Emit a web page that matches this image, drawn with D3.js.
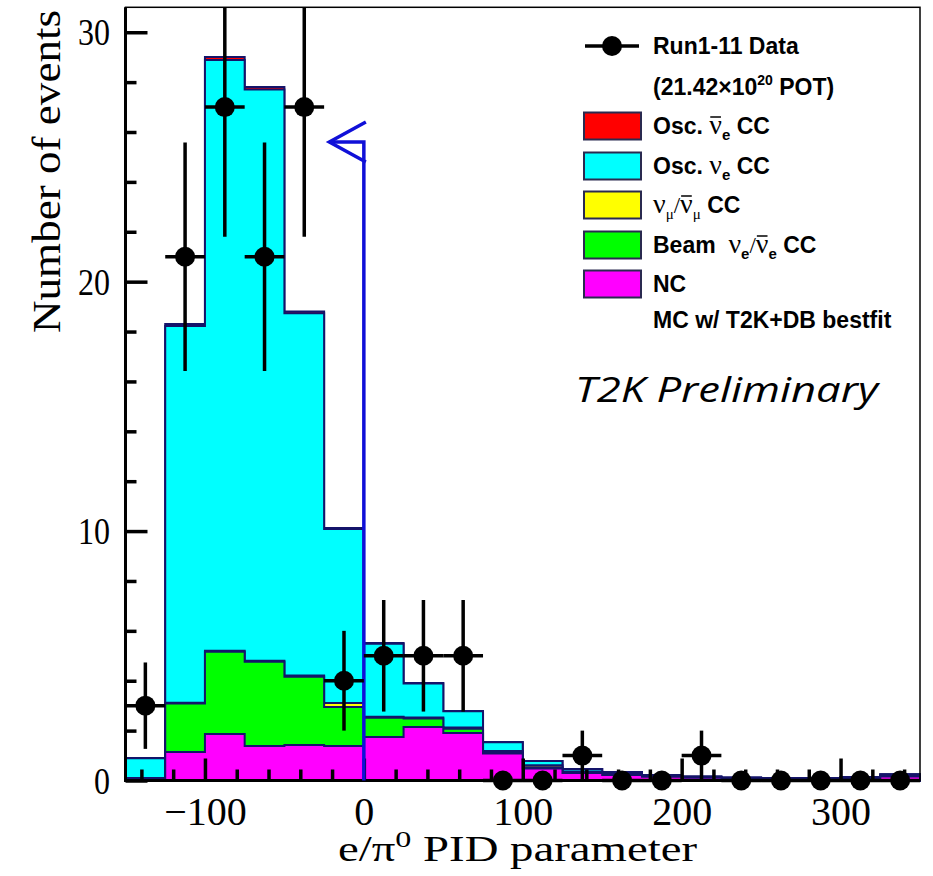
<!DOCTYPE html>
<html>
<head>
<meta charset="utf-8">
<script src="https://cdn.jsdelivr.net/npm/d3@7"></script>
<style>
body { margin: 0; background: #fff; }
svg { display: block; }
</style>
</head>
<body>
<svg id="chart" width="933" height="876"></svg>
<script>
// histogram binning (e/pi0 PID parameter)
const binEdges = [-150, -125, -100, -75, -50, -25, 0, 25, 50, 75, 100, 125, 150, 175, 200, 225, 250, 275, 300, 325, 350];

// data points, Run1-11
const dataCounts = [3, 21, 27, 21, 27, 4, 5, 5, 5, 0, 0, 1, 0, 0, 1, 0, 0, 0, 0, 0];

// MC components, bottom of the stack first
const ncValues     = [0.08, 1.14, 1.86, 1.38, 1.42, 1.38, 1.74, 2.15, 1.90, 1.08, 0.48, 0.30, 0.22, 0.15, 0.11, 0.08, 0.07, 0.07, 0.09, 0.16];
const beamValues   = [0.02, 1.95, 3.30, 3.38, 2.74, 1.57, 0.78, 0.34, 0.17, 0.05, 0.05, 0.02, 0.02, 0.01, 0.01, 0.01, 0.01, 0.01, 0.01, 0.02];
const numuValues   = [0.00, 0.03, 0.04, 0.04, 0.05, 0.16, 0.04, 0.04, 0.05, 0.05, 0.08, 0.04, 0.02, 0.02, 0.02, 0.01, 0.01, 0.01, 0.02, 0.03];
const nueValues    = [0.79, 15.10, 23.69, 22.90, 14.52, 6.97, 2.92, 1.36, 0.66, 0.35, 0.17, 0.10, 0.08, 0.04, 0.02, 0.02, 0.01, 0.01, 0.02, 0.04];
const nuebarValues = [0.01, 0.08, 0.12, 0.10, 0.07, 0.04, 0.03, 0.02, 0.01, 0.01, 0.00, 0.00, 0.00, 0.00, 0.00, 0.00, 0.00, 0.00, 0.00, 0.00];

const xTicksMajor = [-100, 0, 100, 200, 300];
const xTicksMinor = [-140, -120, -80, -60, -40, -20, 20, 40, 60, 80, 120, 140, 160, 180, 220, 240, 260, 280, 320, 340];
const yTicksMajor = [0, 10, 20, 30];
const yTicksMinor = [2, 4, 6, 8, 12, 14, 16, 18, 22, 24, 26, 28];

// selection cut: keep events left of 0
const cutValue = 0;
const cutHeight = 25.6;
const cutArrowTip = -21.7;

const stackKeys = ["nc", "beam", "numu", "nue", "nuebar"];
const stackColors = { nc: "#ff00ff", beam: "#00ff00", numu: "#ffff00", nue: "#00ffff", nuebar: "#ff0000" };

const legendRows = [
    { type: "data", parts: [{ t: "Run1-11 Data" }] },
    { type: "none", parts: [{ t: "(21.42\u00d710" }, { t: "20", size: 14, dy: -10 }, { t: " POT)" }] },
    { type: "nuebar", parts: [{ t: "Osc. " }, { t: "\u03bd", greek: true, bar: true }, { t: "e", sub: true }, { t: " CC" }] },
    { type: "nue", parts: [{ t: "Osc. " }, { t: "\u03bd", greek: true }, { t: "e", sub: true }, { t: " CC" }] },
    { type: "numu", parts: [{ t: "\u03bd", greek: true }, { t: "\u03bc", sub: true, greek: true }, { t: "/", thin: true }, { t: "\u03bd", greek: true, bar: true }, { t: "\u03bc", sub: true, greek: true }, { t: " CC" }] },
    { type: "beam", parts: [{ t: "Beam  " }, { t: "\u03bd", greek: true }, { t: "e", sub: true }, { t: "/", thin: true }, { t: "\u03bd", greek: true, bar: true }, { t: "e", sub: true }, { t: " CC" }] },
    { type: "nc", parts: [{ t: "NC" }] },
    { type: "none", parts: [{ t: "MC w/ T2K+DB bestfit" }] }
];
const legendRowY = [46, 87, 126, 166, 205, 245, 284, 320];

const svg = d3.select("#chart");
const frame = { left: 125.5, right: 920, top: 7.3, bottom: 780.5 };

const x = d3.scaleLinear().domain([-150, 350]).range([frame.left, frame.right]);
const y = d3.scaleLinear().domain([0, 31]).range([frame.bottom, frame.top]);

const serif = "'Liberation Serif', 'Times New Roman', serif";
const sans = "'Liberation Sans', Arial, Helvetica, sans-serif";
const outline = "#14146a";

svg.append("defs").append("clipPath").attr("id", "clip")
    .append("rect")
    .attr("x", 0).attr("y", frame.top)
    .attr("width", 933).attr("height", 876 - frame.top);

// stacked histogram
const rows = dataCounts.map((d, i) => ({
    lo: binEdges[i], hi: binEdges[i + 1],
    nc: ncValues[i], beam: beamValues[i], numu: numuValues[i], nue: nueValues[i], nuebar: nuebarValues[i]
}));
const stacked = d3.stack().keys(stackKeys)(rows);

function stepPoints(series) {
    const pts = [[rows[0].lo, 0]];
    series.forEach((s, i) => {
        pts.push([rows[i].lo, s[1]]);
        pts.push([rows[i].hi, s[1]]);
    });
    pts.push([rows[rows.length - 1].hi, 0]);
    return pts;
}
const stepLine = d3.line().x(d => x(d[0])).y(d => y(d[1]));

const histG = svg.append("g");
stacked.slice().reverse().forEach(s => {
    histG.append("path")
        .attr("d", stepLine(stepPoints(s)) + "Z")
        .attr("fill", stackColors[s.key])
        .attr("stroke", outline)
        .attr("stroke-width", 2);
});

// axes
function styleTicks(g) {
    g.select(".domain").remove();
    g.selectAll(".tick line").attr("stroke", "#000").attr("stroke-width", 3.5);
}

svg.append("g")
    .attr("transform", `translate(0,${frame.bottom})`)
    .call(d3.axisBottom(x).tickValues(xTicksMinor).tickSize(-11).tickFormat(""))
    .call(styleTicks);

const xAxis = svg.append("g")
    .attr("transform", `translate(0,${frame.bottom})`)
    .call(d3.axisBottom(x).tickValues(xTicksMajor).tickSize(-22))
    .call(styleTicks);
xAxis.selectAll(".tick text")
    .attr("y", 44.5).attr("dy", null)
    .attr("fill", "#000")
    .style("font-family", serif)
    .style("font-size", "40px");

svg.append("g")
    .attr("transform", `translate(${frame.left},0)`)
    .call(d3.axisLeft(y).tickValues(yTicksMinor).tickSize(-11).tickFormat(""))
    .call(styleTicks);

const yAxis = svg.append("g")
    .attr("transform", `translate(${frame.left},0)`)
    .call(d3.axisLeft(y).tickValues(yTicksMajor).tickSize(-22))
    .call(styleTicks);
yAxis.selectAll(".tick text")
    .attr("x", -15.5).attr("dy", "0.34em")
    .attr("fill", "#000")
    .style("font-family", serif)
    .style("font-size", "37px")
    .attr("textLength", d => String(d).length * 16)
    .attr("lengthAdjust", "spacingAndGlyphs");

// frame
svg.append("rect")
    .attr("x", frame.left).attr("y", frame.top)
    .attr("width", frame.right - frame.left).attr("height", frame.bottom - frame.top)
    .attr("fill", "none").attr("stroke", "#000").attr("stroke-width", 1.5);
svg.append("path")
    .attr("d", `M${frame.left},${frame.top}V${frame.bottom}H${frame.right}`)
    .attr("fill", "none").attr("stroke", "#000").attr("stroke-width", 3);

// cut line with arrow
const cutX = x(cutValue), cutY = y(cutHeight), tipX = x(cutArrowTip);
const cutG = svg.append("g").attr("stroke", "#1010d8").attr("stroke-width", 3.5).attr("fill", "none");
cutG.append("path").attr("d", `M${cutX},${y(0)}V${cutY}H${tipX}`);
cutG.append("path").attr("d", `M${cutX + 2},${cutY - 20}L${tipX},${cutY}L${cutX + 2},${cutY + 20}`);

// data points
const dataG = svg.append("g").attr("clip-path", "url(#clip)");
dataCounts.forEach((n, i) => {
    const c = (binEdges[i] + binEdges[i + 1]) / 2;
    const e = Math.sqrt(n);
    dataG.append("line")
        .attr("x1", x(binEdges[i])).attr("x2", x(binEdges[i + 1]))
        .attr("y1", y(n)).attr("y2", y(n))
        .attr("stroke", "#000").attr("stroke-width", 3.5);
    if (n > 0) {
        dataG.append("line")
            .attr("x1", x(c)).attr("x2", x(c))
            .attr("y1", y(n - e)).attr("y2", y(n + e))
            .attr("stroke", "#000").attr("stroke-width", 3.5);
    }
    dataG.append("circle")
        .attr("cx", x(c)).attr("cy", y(n)).attr("r", 10)
        .attr("fill", "#000");
});

// axis titles
svg.append("text")
    .attr("transform", "translate(60,333) rotate(-90)")
    .attr("textLength", 323).attr("lengthAdjust", "spacingAndGlyphs")
    .style("font-family", serif).style("font-size", "41px")
    .text("Number of events");

const xt = svg.append("text")
    .attr("x", 338).attr("y", 861)
    .attr("textLength", 359).attr("lengthAdjust", "spacingAndGlyphs")
    .style("font-family", serif).style("font-size", "35px");
xt.append("tspan").text("e/\u03c0");
xt.append("tspan").attr("dy", -14).style("font-size", "24px").text("0");
xt.append("tspan").attr("dy", 14).text(" PID parameter");

// legend
const legendG = svg.append("g");
function richText(g, x0, yb, parts) {
    let cx = x0;
    parts.forEach(p => {
        const size = p.size || (p.sub ? 15 : p.greek ? 28 : 23);
        const dy = p.dy || (p.sub ? 6 : 0);
        const t = g.append("text")
            .attr("x", cx).attr("y", yb + dy)
            .style("font-family", p.greek || p.thin ? serif : sans)
            .style("font-weight", p.greek || p.thin ? "normal" : "bold")
            .style("font-size", size + "px")
            .attr("xml:space", "preserve")
            .text(p.t);
        const w = t.node().getComputedTextLength();
        if (p.bar) {
            g.append("line")
                .attr("x1", cx + 1).attr("x2", cx + w - 1)
                .attr("y1", yb - 17).attr("y2", yb - 17)
                .attr("stroke", "#000").attr("stroke-width", 1.5);
        }
        cx += w;
    });
}

legendRows.forEach((row, i) => {
    const cy = legendRowY[i];
    if (row.type === "data") {
        legendG.append("line")
            .attr("x1", 585).attr("x2", 639).attr("y1", cy).attr("y2", cy)
            .attr("stroke", "#000").attr("stroke-width", 3.5);
        legendG.append("circle").attr("cx", 612).attr("cy", cy).attr("r", 10).attr("fill", "#000");
    } else if (row.type !== "none") {
        legendG.append("rect")
            .attr("x", 584).attr("y", cy - 13.5)
            .attr("width", 57).attr("height", 27)
            .attr("fill", stackColors[row.type])
            .attr("stroke", "#2a2a50").attr("stroke-width", 2);
    }
    richText(legendG, 653, cy + 8, row.parts);
});

svg.append("text")
    .attr("x", 575).attr("y", 402)
    .attr("textLength", 303).attr("lengthAdjust", "spacingAndGlyphs")
    .style("font-family", "'Open Sans', sans-serif")
    .style("font-style", "italic")
    .style("font-size", "35px")
    .text("T2K Preliminary");
</script>
</body>
</html>
